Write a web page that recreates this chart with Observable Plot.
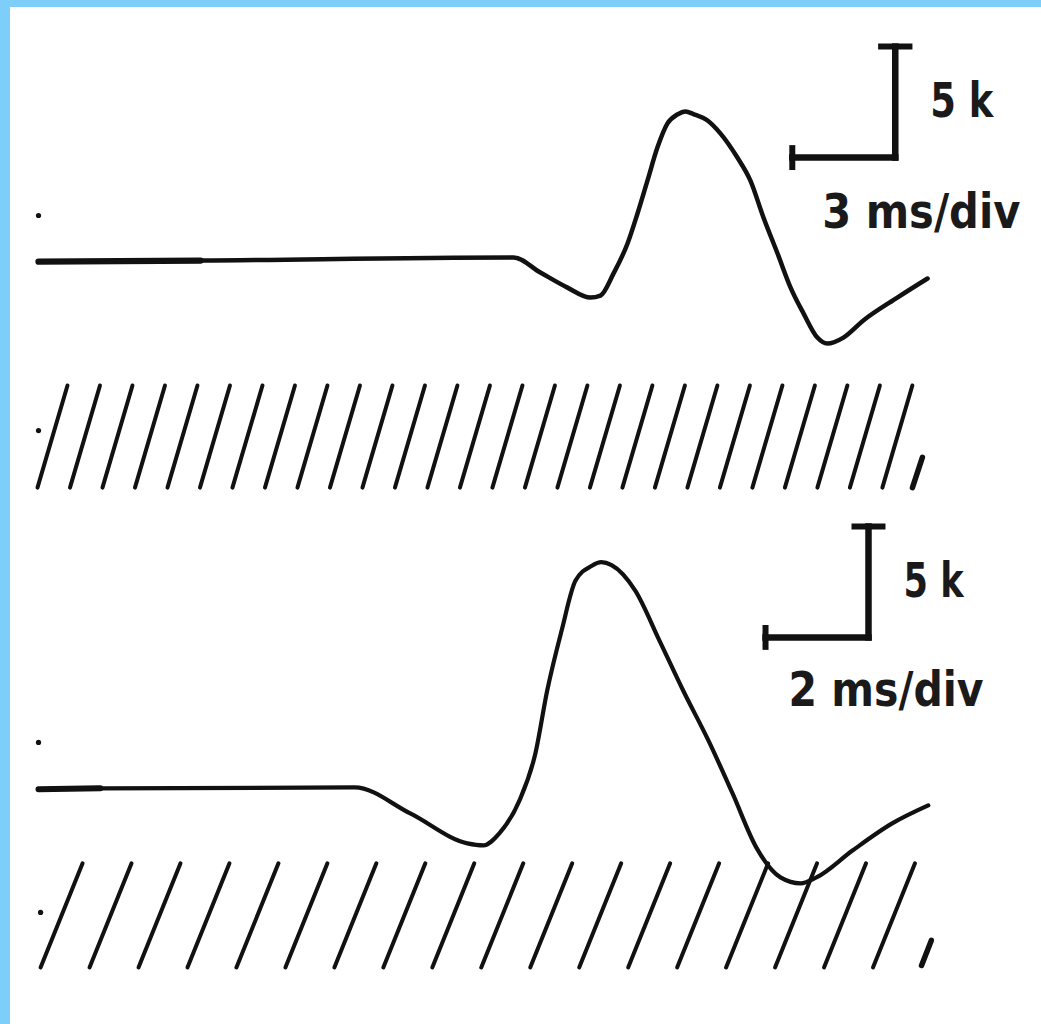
<!DOCTYPE html>
<html>
<head>
<meta charset="utf-8">
<script src="https://cdn.jsdelivr.net/npm/d3@7"></script>
<script src="https://cdn.jsdelivr.net/npm/@observablehq/plot@0.6"></script>
<style>
  html, body { margin: 0; padding: 0; background: #fff; }
  #frame {
    width: 1031px; height: 1017px;
    border-left: 10px solid #7dcef8; border-top: 7px solid #7dcef8;
    background: #fff; overflow: hidden;
  }
  #frame svg { display: block; }
</style>
</head>
<body>
<div id="frame"></div>
<script>
// Upper record: 3 ms/div sweep. Time in ms, signal in k.
const upperTime   = [0, 4.72, 13.84, 14.62, 15.41, 16.08, 16.37, 16.75, 17.16, 17.45, 17.74, 18.03, 18.32, 18.61, 18.85, 19.08, 19.49, 19.87, 20.36, 20.74, 21.12, 21.53, 21.91, 22.29, 22.69, 22.98, 23.45, 24.03, 25.02, 25.90];
const upperSignal = [-0.05, 0, 0.14, -0.54, -1.22, -1.67, -1.58, -0.59, 0.77, 2.12, 3.60, 5.09, 6.17, 6.58, 6.72, 6.60, 6.31, 5.72, 4.64, 3.60, 1.94, 0.32, -1.22, -2.39, -3.47, -3.74, -3.47, -2.70, -1.67, -0.81];

// Lower record: 2 ms/div sweep.
const lowerTime   = [0, 1.2, 6.14, 7.22, 8.33, 8.64, 8.95, 9.34, 9.65, 9.88, 10.16, 10.43, 10.74, 10.93, 11.13, 11.59, 12.06, 12.52, 13.01, 13.48, 13.94, 14.41, 14.80, 15.11, 15.81, 16.58, 17.28];
const lowerSignal = [-0.08, -0.04, 0, -1.17, -2.52, -2.61, -2.07, -0.59, 1.53, 4.37, 7.07, 9.32, 9.98, 10.15, 10.02, 8.87, 6.62, 4.37, 2.12, -0.27, -2.70, -4.05, -4.32, -4.05, -2.84, -1.62, -0.81];

// Calibration bars: one time division and 5 k of signal.
const timeDivisions = [3, 2];            // ms per division, upper and lower
const signalBar     = [5, 5];            // k
const barCornerTime   = [24.96, 16.12];  // ms
const barCornerSignal = [4.64, 6.76];    // k
const barLabels  = ["5 k", "5 k"];
const timeLabels = ["3 ms/div", "2 ms/div"];

// Hatched ground strip under each record (signal range, k) and its hatch count.
const groundTop    = [-5.63, -3.42];
const groundBottom = [-10.23, -8.11];
const hatchCount   = [27, 18];

// Small reference pips left on the records.
const upperPips = [{t: 0, v: 2.03}, {t: 0, v: -7.66}];
const lowerPips = [{t: 0, v: 2.03}, {t: 0.04, v: -5.63}];

const ink = "#111";
const labelFont = "'Liberation Sans Narrow', 'DejaVu Sans Condensed', 'Liberation Sans', sans-serif";

function seg(x1, y1, x2, y2) { return {x1, y1, x2, y2}; }

function panel(o) {
  const i = o.i;
  const trace = o.time.map((t, k) => ({t, v: o.signal[k]}));
  const lead = trace.filter(d => d.t <= o.leadEnd);
  const hatch = d3.range(hatchCount[i]).map(k =>
    seg(o.hatchStart + k * o.hatchStep, groundBottom[i],
        o.hatchStart + k * o.hatchStep + o.hatchLean, groundTop[i]));
  const cx = barCornerTime[i], cy = barCornerSignal[i];
  const left = cx - timeDivisions[i], top = cy + signalBar[i];
  const barLines = [
    seg(left, cy, cx, cy),                                   // time division
    seg(cx, cy, cx, top)                                     // 5 k
  ];
  const caps = [
    seg(cx - o.capHalf, top, cx + o.capHalf, top),
    seg(left, cy - o.capTall, left, cy + o.capTall)
  ];

  const svg = Plot.plot({
    width: 1031, height: o.height, margin: 0,
    style: {background: "#fff", overflow: "visible"},
    x: {domain: o.xDomain, axis: null},
    y: {domain: o.yDomain, axis: null},
    marks: [
      Plot.link(hatch, {x1: "x1", y1: "y1", x2: "x2", y2: "y2", stroke: ink, strokeWidth: 4, strokeLinecap: "round"}),
      Plot.link([o.comma], {x1: "x1", y1: "y1", x2: "x2", y2: "y2", stroke: ink, strokeWidth: 5.5, strokeLinecap: "round"}),
      Plot.dot(o.pips, {x: "t", y: "v", r: 2.6, fill: ink}),
      Plot.line(trace, {x: "t", y: "v", stroke: ink, strokeWidth: o.traceWidth, curve: "monotone-x", strokeLinejoin: "round", strokeLinecap: "round"}),
      Plot.line(lead, {x: "t", y: "v", stroke: ink, strokeWidth: o.traceWidth + 1.8, curve: "monotone-x", strokeLinecap: "round"}),
      Plot.link(barLines, {x1: "x1", y1: "y1", x2: "x2", y2: "y2", stroke: ink, strokeWidth: 6.5, strokeLinecap: "square"}),
      Plot.link(caps, {x1: "x1", y1: "y1", x2: "x2", y2: "y2", stroke: ink, strokeWidth: 6}),
      Plot.text([barLabels[i]], {x: () => cx, y: () => cy + signalBar[i] / 2, text: d => d, dx: 35, textAnchor: "start",
        fontSize: 48, fontWeight: "bold", fontFamily: labelFont, fill: "#1a1a1a"}),
      Plot.text([timeLabels[i]], {x: () => cx, y: () => cy, text: d => d, dx: o.label.dx, dy: o.label.dy, textAnchor: "start",
        fontSize: 48, fontWeight: "bold", fontFamily: labelFont, fill: "#1a1a1a"})
    ]
  });
  // Condense the calibration lettering.
  d3.select(svg).selectAll("text").each(function() {
    const s = this.textContent;
    const w = s.includes("ms") ? o.label.time : o.label.k;
    d3.select(this).attr("textLength", w).attr("lengthAdjust", "spacingAndGlyphs");
  });
  return svg;
}

const frame = document.getElementById("frame");

frame.appendChild(panel({
  time: upperTime, signal: upperSignal, i: 0,
  xDomain: [-0.816, 29.22], yDomain: [-10.81, 11.40], height: 493,
  pips: upperPips,
  hatchStart: -0.03, hatchStep: 0.9467, hatchLean: 0.874,
  comma: seg(25.46, -10.23, 25.75, -8.87),
  capHalf: 0.5, capTall: 0.56,
  traceWidth: 4.5, leadEnd: 4.72,
  label: {k: 63, time: 198, dx: -73, dy: 55}
}));

frame.appendChild(panel({
  time: lowerTime, signal: lowerSignal, i: 1,
  xDomain: [-0.544, 19.48], yDomain: [-10.68, 12.93], height: 524,
  pips: lowerPips,
  hatchStart: 0.04, hatchStep: 0.951, hatchLean: 0.816,
  comma: seg(17.15, -8.02, 17.34, -6.89),
  capHalf: 0.33, capTall: 0.56,
  traceWidth: 4.2, leadEnd: 1.2,
  label: {k: 60, time: 195, dx: -80, dy: 53}
}));
</script>
</body>
</html>
